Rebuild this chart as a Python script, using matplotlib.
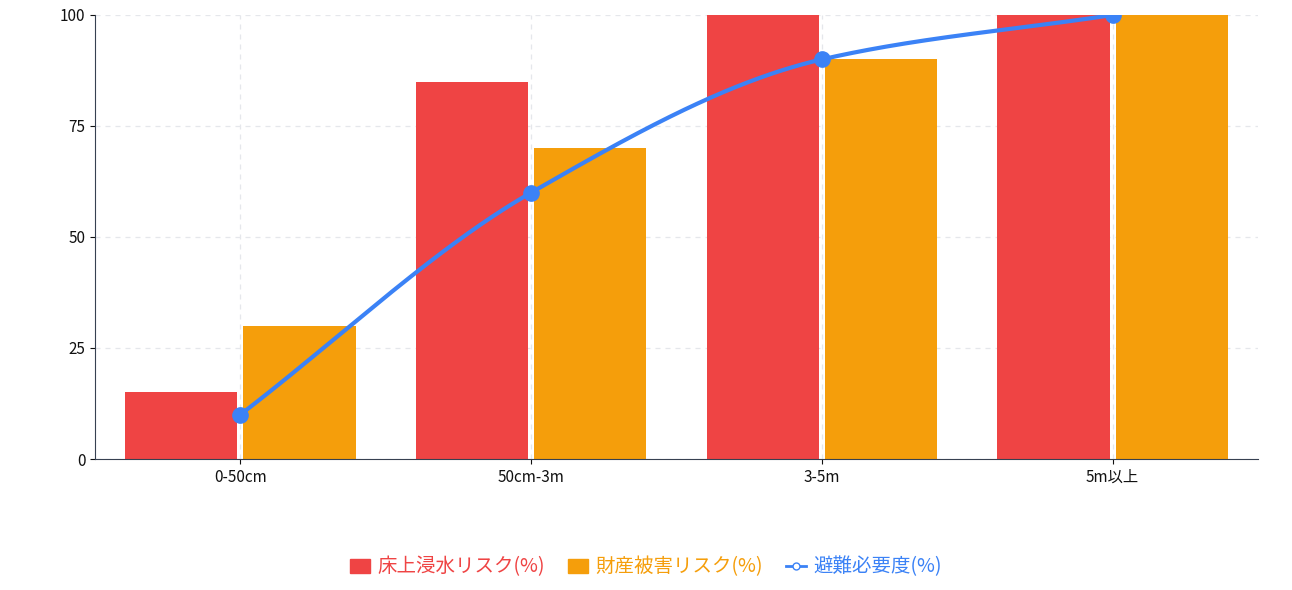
import numpy as np
import matplotlib.pyplot as plt
from matplotlib.lines import Line2D
from matplotlib.patches import Patch

plt.rcParams["font.family"] = ["Noto Sans CJK JP", "DejaVu Sans"]

categories = ["0-50cm", "50cm-3m", "3-5m", "5m以上"]
floor_risk = [15, 85, 100, 100]
property_risk = [30, 70, 90, 100]
evacuation = [10, 60, 90, 100]
series_names = ["床上浸水リスク(%)", "財産被害リスク(%)", "避難必要度(%)"]
colors = ["#EF4444", "#F59E0B", "#3B82F6"]


def pchip(x, y, n=200):
    x = np.asarray(x, float); y = np.asarray(y, float)
    h = np.diff(x); d = np.diff(y) / h
    m = np.zeros_like(y)
    for i in range(1, len(y) - 1):
        if d[i - 1] * d[i] > 0:
            w1 = 2 * h[i] + h[i - 1]; w2 = h[i] + 2 * h[i - 1]
            m[i] = (w1 + w2) / (w1 / d[i - 1] + w2 / d[i])
    m[0] = d[0]; m[-1] = d[-1] if d[-1] else 0
    xs, ys = [], []
    for i in range(len(h)):
        t = np.linspace(0, 1, n)
        h00 = 2*t**3 - 3*t**2 + 1; h10 = t**3 - 2*t**2 + t
        h01 = -2*t**3 + 3*t**2; h11 = t**3 - t**2
        xs.append(x[i] + t * h[i])
        ys.append(h00*y[i] + h10*h[i]*m[i] + h01*y[i+1] + h11*h[i]*m[i+1])
    return np.concatenate(xs), np.concatenate(ys)


fig = plt.figure(figsize=(12.92, 5.90), dpi=100)
ax = fig.add_axes([95/1292, 1 - 459/590, 1163/1292, 444/590])
x = np.arange(len(categories))
w = 0.386
ax.bar(x - 0.01 - w/2, floor_risk, w, color=colors[0], zorder=2)
ax.bar(x + 0.01 + w/2, property_risk, w, color=colors[1], zorder=2)
sx, sy = pchip(x, evacuation)
ax.plot(sx, sy, color=colors[2], lw=3, zorder=3)
ax.plot(x, evacuation, "o", color=colors[2], ms=11, zorder=4)

ax.set_xlim(-0.5, 3.5)
ax.set_ylim(0, 100)
ax.set_yticks([0, 25, 50, 75, 100])
ax.set_xticks(x)
ax.set_xticklabels(categories)
ax.tick_params(labelsize=11, colors="#111111")
ax.set_yticks([0, 25, 50, 75, 100])
ax.grid(True, ls=(0, (4, 4)), color="#E5E7EB", lw=0.9, zorder=0)
for s in ["top", "right"]:
    ax.spines[s].set_visible(False)
for s in ["left", "bottom"]:
    ax.spines[s].set_color("#374151")

handles = [Patch(color=colors[0]), Patch(color=colors[1]),
           Line2D([], [], color=colors[2], lw=2, marker="o", ms=5, mfc="white")]
leg = fig.legend(handles, series_names, loc="center", bbox_to_anchor=(0.5, 1 - 567/590),
                 ncol=3, frameon=False, fontsize=14, handlelength=1.0, handletextpad=0.4,
                 columnspacing=1.2)
for t, c in zip(leg.get_texts(), colors):
    t.set_color(c)
fig.savefig("out.png", dpi=100)
